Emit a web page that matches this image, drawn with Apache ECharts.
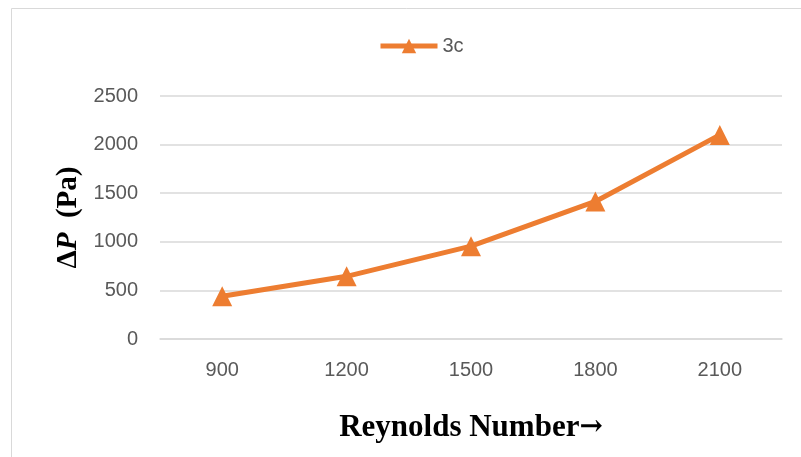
<!DOCTYPE html>
<html>
<head>
<meta charset="utf-8">
<script src="https://cdn.jsdelivr.net/npm/echarts@6/dist/echarts.min.js"></script>
<style>html,body{margin:0;padding:0;background:#fff}#c{width:801px;height:457px}</style>
</head>
<body>
<div id="c"></div>
<script>
var categories = ['900', '1200', '1500', '1800', '2100'];
var series3c = [440, 645, 955, 1415, 2100];
var yTicks = [0, 500, 1000, 1500, 2000, 2500];

var chart = echarts.init(document.getElementById('c'), null, {renderer: 'canvas'});
chart.setOption({
  backgroundColor: '#ffffff',
  animation: false,
  graphic: [{
    type: 'rect', left: 9, top: 6,
    shape: {width: 800, height: 460},
    style: {fill: 'none', stroke: '#d9d9d9', lineWidth: 1}
  }],
  legend: {
    left: 373, top: 31,
    itemWidth: 57, itemHeight: 18, itemGap: 10,
    textStyle: {color: '#595959', fontSize: 20, fontFamily: 'Liberation Sans'},
    lineStyle: {width: 5},
    data: ['3c']
  },
  grid: {left: 160, right: 19, top: 96, bottom: 118, containLabel: false},
  xAxis: {
    type: 'category',
    data: categories,
    boundaryGap: true,
    axisLine: {show: true, lineStyle: {color: '#d9d9d9', width: 1.5}},
    axisTick: {show: false},
    axisLabel: {color: '#595959', fontSize: 20, fontFamily: 'Liberation Sans', margin: 21},
    name: '{t|Reynolds Number}{r|\u2192}',
    nameLocation: 'middle',
    nameGap: 73,
    nameTextStyle: {
      color: '#000',
      rich: {
        t: {fontSize: 31, fontWeight: 'bold', fontFamily: 'Liberation Serif', color: '#000'},
        r: {fontSize: 28, fontWeight: 'bold', fontFamily: 'DejaVu Serif', color: '#000'}
      }
    }
  },
  yAxis: {
    type: 'value',
    min: yTicks[0], max: yTicks[yTicks.length - 1], interval: 500,
    axisLine: {show: false},
    axisTick: {show: false},
    splitLine: {lineStyle: {color: '#d9d9d9', width: 1.5}},
    axisLabel: {color: '#595959', fontSize: 20, fontFamily: 'Liberation Sans', margin: 22,
      formatter: function (v) { return String(v); }},
    name: '{a|\u0394}{b|P}{a|  (Pa)}',
    nameLocation: 'middle',
    nameGap: 76,
    nameRotate: 90,
    nameTextStyle: {
      color: '#000',
      rich: {
        a: {fontSize: 29, fontWeight: 'bold', fontFamily: 'Liberation Serif', color: '#000'},
        b: {fontSize: 29, fontWeight: 'bold', fontStyle: 'italic', fontFamily: 'Liberation Serif', color: '#000'}
      }
    }
  },
  series: [{
    name: '3c',
    type: 'line',
    data: series3c,
    symbol: 'triangle',
    symbolSize: 20,
    lineStyle: {color: '#ED7D31', width: 5},
    itemStyle: {color: '#ED7D31'}
  }]
});
</script>
</body>
</html>
